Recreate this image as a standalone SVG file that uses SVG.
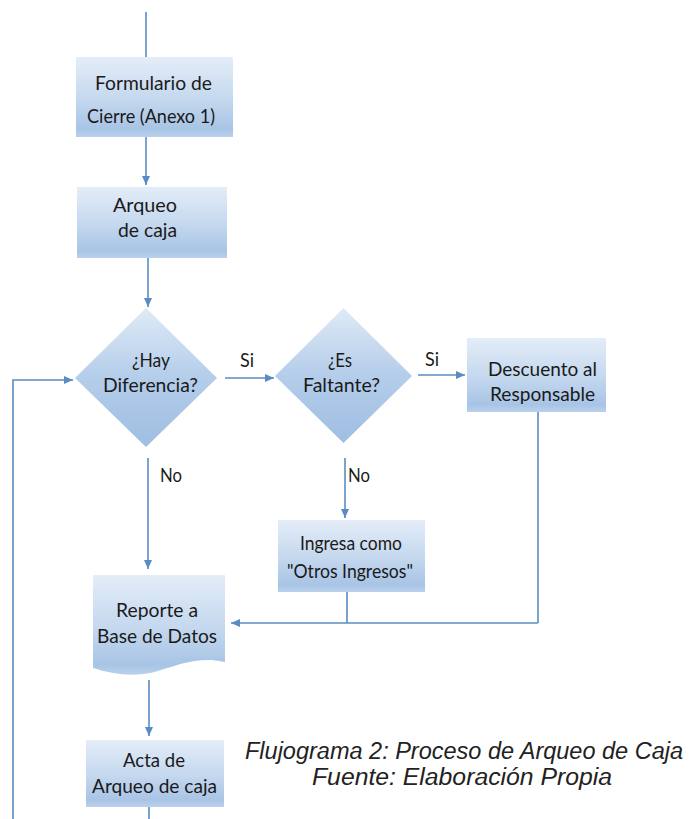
<svg xmlns="http://www.w3.org/2000/svg" width="691" height="819" viewBox="0 0 691 819">
<defs>
<linearGradient id="g" x1="0" y1="0" x2="0" y2="1">
<stop offset="0" stop-color="#e4edf8"/>
<stop offset="0.55" stop-color="#c3d7ee"/>
<stop offset="0.9" stop-color="#a8c4e5"/>
<stop offset="1" stop-color="#bad1ec"/>
</linearGradient>
<linearGradient id="gd" x1="0" y1="0" x2="0" y2="1">
<stop offset="0" stop-color="#dfeaf6"/>
<stop offset="0.5" stop-color="#b4cdea"/>
<stop offset="1" stop-color="#9fbee2"/>
</linearGradient>
<marker id="ah" markerWidth="10" markerHeight="10" refX="9" refY="5" orient="auto" markerUnits="userSpaceOnUse">
<path d="M0,1 L9,5 L0,9 Z" fill="#5a8cc4"/>
</marker>
<style>
.n{fill:url(#g);stroke:none}
.d{fill:url(#gd);stroke:none}
.t{font-family:Lato,"Liberation Sans",sans-serif;font-size:20px;fill:#1a1a1a;text-anchor:middle}
.l{font-family:Lato,"Liberation Sans",sans-serif;font-size:19px;fill:#1a1a1a}
.c{fill:none;stroke:#5a8cc4;stroke-width:1.6}
.a{marker-end:url(#ah)}
.cap{font-family:"Liberation Sans",Arial,sans-serif;font-style:italic;font-size:23.5px;fill:#222;text-anchor:middle}
</style>
</defs>
<g id="connectors">
<path class="c" d="M146,12 V57"/>
<path class="c a" d="M146,137 V185"/>
<path class="c a" d="M148,258 V307"/>
<path class="c a" d="M225,378 H274"/>
<path class="c a" d="M418,375 H465"/>
<path class="c a" d="M148,458 V569"/>
<path class="c a" d="M345,458 V518"/>
<path class="c" d="M538,412 V623"/>
<path class="c" d="M347,592 V623"/>
<path class="c a" d="M538,623 H231"/>
<path class="c a" d="M149,680 V736"/>
<path class="c" d="M149,807 V819"/>
<path class="c a" d="M13,819 V380 H73"/>
<text class="l" x="240" y="367" textLength="14" lengthAdjust="spacingAndGlyphs">Si</text>
<text class="l" x="425" y="366" textLength="14" lengthAdjust="spacingAndGlyphs">Si</text>
<text class="l" x="160" y="482" textLength="22" lengthAdjust="spacingAndGlyphs">No</text>
<text class="l" x="348" y="482" textLength="22" lengthAdjust="spacingAndGlyphs">No</text>
</g>
<g id="formulario">
<rect class="n" x="76" y="57" width="157" height="80"/>
<text class="t" x="153.5" y="90" textLength="117" lengthAdjust="spacingAndGlyphs">Formulario de</text>
<text class="t" x="151" y="123" textLength="128" lengthAdjust="spacingAndGlyphs">Cierre (Anexo 1)</text>
</g>
<g id="arqueo">
<rect class="n" x="77" y="187" width="150" height="71"/>
<text class="t" x="145" y="212" textLength="64" lengthAdjust="spacingAndGlyphs">Arqueo</text>
<text class="t" x="147.5" y="237" textLength="59" lengthAdjust="spacingAndGlyphs">de caja</text>
</g>
<g id="hay-diferencia">
<path class="d" d="M146,308 L217,378 L146,447 L75,378 Z"/>
<text class="t" x="151" y="367" textLength="38" lengthAdjust="spacingAndGlyphs">¿Hay</text>
<text class="t" x="150.5" y="392" textLength="95" lengthAdjust="spacingAndGlyphs">Diferencia?</text>
</g>
<g id="es-faltante">
<path class="d" d="M343.5,308 L412,376 L343.5,443 L275,376 Z"/>
<text class="t" x="340" y="367" textLength="24" lengthAdjust="spacingAndGlyphs">¿Es</text>
<text class="t" x="341.5" y="392" textLength="77" lengthAdjust="spacingAndGlyphs">Faltante?</text>
</g>
<g id="descuento">
<rect class="n" x="467" y="338" width="139" height="74"/>
<text class="t" x="542.5" y="376" textLength="109" lengthAdjust="spacingAndGlyphs">Descuento al</text>
<text class="t" x="542.5" y="401" textLength="105" lengthAdjust="spacingAndGlyphs">Responsable</text>
</g>
<g id="ingresa">
<rect class="n" x="278" y="520" width="147" height="72"/>
<text class="t" x="351" y="550" textLength="102" lengthAdjust="spacingAndGlyphs">Ingresa como</text>
<text class="t" x="350" y="578" textLength="126" lengthAdjust="spacingAndGlyphs">"Otros Ingresos"</text>
</g>
<g id="reporte">
<path class="n" d="M93,575 H225 V662 C200,656 180,664 158,671 C135,678 112,674 93,668 Z"/>
<text class="t" x="157" y="617" textLength="82" lengthAdjust="spacingAndGlyphs">Reporte a</text>
<text class="t" x="157" y="643" textLength="120" lengthAdjust="spacingAndGlyphs">Base de Datos</text>
</g>
<g id="acta">
<rect class="n" x="86" y="740" width="138" height="67"/>
<text class="t" x="154" y="767" textLength="62" lengthAdjust="spacingAndGlyphs">Acta de</text>
<text class="t" x="154.5" y="793" textLength="125" lengthAdjust="spacingAndGlyphs">Arqueo de caja</text>
</g>
<g id="caption">
<text class="cap" x="464" y="759" textLength="438" lengthAdjust="spacingAndGlyphs">Flujograma 2: Proceso de Arqueo de Caja</text>
<text class="cap" x="462" y="785" textLength="300" lengthAdjust="spacingAndGlyphs">Fuente: Elaboración Propia</text>
</g>
</svg>
